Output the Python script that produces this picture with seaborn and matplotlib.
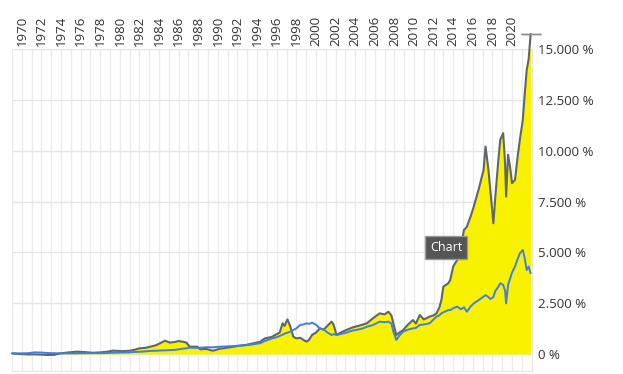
import matplotlib
matplotlib.use("Agg")
import matplotlib.pyplot as plt
import matplotlib.ticker as mticker
import seaborn as sns
import pandas as pd

# values (x in years, y in %)
years = [1969.0, 1969.8, 1970.6, 1971.3, 1972.0, 1972.6, 1973.3, 1973.9, 1974.8, 1975.6,
         1976.5, 1977.3, 1978.0, 1978.7, 1979.3, 1980.2, 1981.0, 1981.5, 1982.0, 1982.6,
         1983.1, 1983.6, 1984.1, 1984.6, 1985.1, 1985.6, 1986.0, 1986.4, 1986.8, 1987.1,
         1987.9, 1988.2, 1988.8, 1989.5, 1990.2, 1990.8, 1991.5, 1992.2, 1992.9, 1993.6,
         1994.3, 1994.8, 1995.5, 1996.0, 1996.3, 1996.6, 1996.8, 1997.1, 1997.4, 1997.7,
         1998.0, 1998.4, 1998.7, 1999.05, 1999.3, 1999.6, 2000.0, 2000.4, 2000.8, 2001.2,
         2001.6, 2001.8, 2002.1, 2002.5, 2003.1, 2003.7, 2004.3, 2004.8, 2005.2, 2005.8,
         2006.5, 2007.0, 2007.4, 2007.7, 2007.9, 2008.2, 2008.5, 2008.9, 2009.4, 2009.9,
         2010.2, 2010.6, 2011.0, 2011.6, 2012.0, 2012.3, 2012.6, 2012.8, 2013.0, 2013.5,
         2013.7, 2014.0, 2014.4, 2014.8, 2015.1, 2015.4, 2015.8, 2016.1, 2016.6, 2017.1,
         2017.3, 2017.6, 2017.8, 2018.1, 2018.3, 2018.6, 2018.8, 2019.1, 2019.3, 2019.4,
         2019.6, 2019.8, 2020.0, 2020.3, 2020.6, 2020.8, 2021.1, 2021.3, 2021.5, 2021.7,
         2021.9]

portfolio = [30, 0, -20, -20, -30, -50, -40, 30, 80, 115,
             90, 60, 80, 110, 165, 140, 160, 210, 280, 300,
             360, 420, 525, 655, 560, 590, 640, 605, 560, 360,
             360, 230, 250, 160, 260, 300, 350, 410, 450, 525,
             600, 770, 840, 980, 1050, 1510, 1380, 1700, 1340, 850,
             770, 800, 700, 605, 700, 935, 1050, 1260, 1200, 1400,
             1590, 1450, 935, 1050, 1180, 1300, 1380, 1450, 1510, 1750,
             2000, 1950, 2080, 1900, 1500, 935, 1050, 1180, 1450, 1670,
             1500, 1920, 1700, 1840, 1900, 2000, 2300, 2660, 3310, 3480,
             3640, 4300, 4620, 5300, 6100, 6260, 6800, 7250, 8100, 9050,
             10200, 9050, 8000, 6430, 7740, 9500, 10530, 10860, 9300, 7740,
             9800, 9210, 8400, 8560, 9800, 10530, 11510, 12800, 13970, 14500,
             15740]

benchmark = [30, 30, 40, 80, 70, 50, 40, 30, 30, 30,
             40, 40, 40, 50, 60, 70, 80, 100, 110, 130,
             150, 160, 170, 180, 190, 200, 230, 260, 280, 310,
             300, 310, 330, 330, 360, 370, 390, 410, 430, 475,
             530, 640, 760, 830, 885, 950, 1000, 1050, 1100, 1180,
             1260, 1430, 1450, 1510, 1480, 1540, 1440, 1260, 1200, 1050,
             935, 980, 935, 980, 1050, 1150, 1200, 1260, 1340, 1420,
             1590, 1560, 1590, 1500, 1100, 690, 900, 1100, 1200, 1260,
             1280, 1430, 1450, 1510, 1700, 1840, 1900, 2000, 2050, 2160,
             2160, 2250, 2330, 2200, 2300, 2080, 2350, 2490, 2650, 2820,
             2900, 2800, 2700, 2800, 3100, 3300, 3480, 3400, 3100, 2490,
             3400, 3700, 4000, 4300, 4700, 4950, 5120, 4700, 4130, 4300,
             3970]

tick_years = list(range(1970, 2021, 2))
y_ticks = [0, 2500, 5000, 7500, 10000, 12500, 15000]

df = pd.DataFrame({"year": years, "portfolio": portfolio, "benchmark": benchmark})

sns.set_style("white")
plt.rcParams["font.family"] = ["Open Sans", "DejaVu Sans"]

fig = plt.figure(figsize=(6.23, 3.74), dpi=100)
ax = fig.add_axes([12 / 623, 3 / 374, 520 / 623, 322 / 374])

# light grid
for yr in range(1969, 2023):
    ax.axvline(yr, color="#ececec", lw=1, zorder=0)
for v in y_ticks:
    ax.axhline(v, color="#e6e6e6", lw=1, zorder=0)

ax.fill_between(df["year"], df["portfolio"], 0, color="#f8f200", lw=0, zorder=1)
sns.lineplot(data=df, x="year", y="portfolio", color="#5e6669", lw=1.5, ax=ax,
             zorder=3, clip_on=False)
sns.lineplot(data=df, x="year", y="benchmark", color="#3f7ee8", lw=1.4, ax=ax,
             zorder=4)
ax.errorbar([years[-1]], [portfolio[-1]], yerr=[[0], [0]], capsize=7,
            ecolor="#8a8a8a", capthick=1, fmt="none", clip_on=False, zorder=5)

ax.set_xlim(1969.0, 2022.04)
ax.set_ylim(-836, 15000)

ax.xaxis.tick_top()
ax.set_xticks(tick_years)
ax.set_xticklabels([str(t) for t in tick_years], rotation=90)
ax.yaxis.tick_right()
ax.set_yticks(y_ticks)
ax.yaxis.set_major_formatter(mticker.FuncFormatter(
    lambda v, p: "0 %" if v == 0 else f"{int(v):,} %".replace(",", ".")))
ax.tick_params(axis="both", length=0, labelsize=9.5, colors="#333333", pad=4)
ax.tick_params(axis="x", pad=2)
ax.set_xlabel("")
ax.set_ylabel("")

for s in ["top", "left"]:
    ax.spines[s].set_visible(False)
ax.spines["bottom"].set_color("#e6e6e6")
ax.spines["right"].set_color("#e6e6e6")

ax.text(0.835, 0.385, "Chart", transform=ax.transAxes, ha="center", va="center",
        fontsize=9, color="white", zorder=6,
        bbox=dict(boxstyle="square,pad=0.4", facecolor="#555555",
                  edgecolor="#9a9a9a", lw=1))

fig.savefig("out.png", dpi=100)
